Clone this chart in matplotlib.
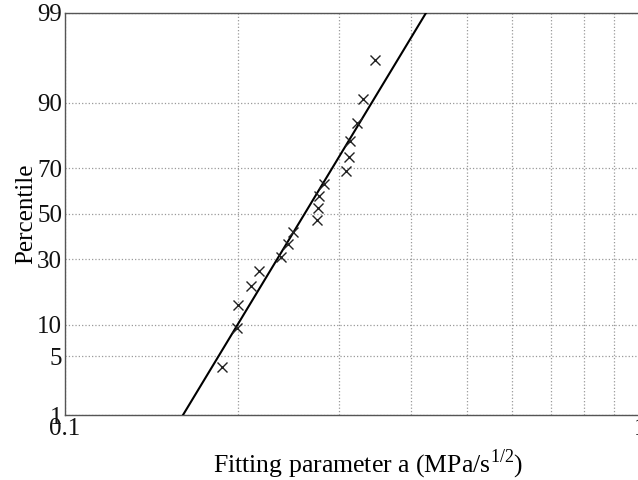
import matplotlib
matplotlib.use('Agg')
import matplotlib.pyplot as plt
import numpy as np
from statistics import NormalDist

plt.rcParams['font.family'] = ['Liberation Serif', 'DejaVu Serif']
plt.rcParams['mathtext.fontset'] = 'custom'
plt.rcParams['mathtext.rm'] = 'Liberation Serif'

# measured fitting parameter a (MPa/s^1/2) and their percentiles
a_values = [0.1876, 0.1990, 0.2000, 0.2107, 0.2176, 0.2376, 0.2443, 0.2493, 0.2745,
            0.2756, 0.2767, 0.2823, 0.3083, 0.3121, 0.3133, 0.3222, 0.3300, 0.3462]
percentiles = [3.80, 9.24, 14.67, 20.11, 25.54, 30.98, 36.41, 41.85, 47.28,
               52.72, 58.15, 63.59, 69.02, 74.46, 79.89, 85.33, 90.76, 96.20]

# fitted lognormal line (end points)
fit_a = [0.1604, 0.4249]
fit_p = [1, 99]

y_ticks = [1, 5, 10, 30, 50, 70, 90, 99]

_nd = NormalDist()
_inv = np.vectorize(lambda v: _nd.inv_cdf(v / 100.0), otypes=[float])
_cdf = np.vectorize(lambda v: _nd.cdf(v) * 100.0, otypes=[float])


def forward(p):
    p = np.clip(np.asarray(p, dtype=float), 1e-6, 100 - 1e-6)
    return _inv(p)


def inverse(z):
    return _cdf(np.asarray(z, dtype=float))


fig = plt.figure(figsize=(6.38, 4.8), dpi=100)
ax = fig.add_axes([65 / 638, 1 - 415 / 480, (640 - 65) / 638, (415 - 12.5) / 480])

ax.set_xscale('log')
ax.set_yscale('function', functions=(forward, inverse))

ax.plot(fit_a, fit_p, color='black', linewidth=1.5, zorder=3)
ax.plot(a_values, percentiles, linestyle='none', marker='x', color='#222222',
        markersize=7, markeredgewidth=1.0, zorder=4)

ax.set_xlim(0.1, 1)
ax.set_ylim(1, 99)

ax.set_yticks(y_ticks)
ax.set_yticklabels([str(t) for t in y_ticks])
ax.set_xticks([0.1, 1])
ax.set_xticklabels(['0.1', '1'])
ax.set_xticks(np.arange(0.2, 1.0, 0.1), minor=True)
ax.xaxis.set_minor_formatter(matplotlib.ticker.NullFormatter())
ax.yaxis.set_minor_locator(matplotlib.ticker.NullLocator())

ax.grid(True, which='both', axis='x', linestyle=':', color='#999999', linewidth=0.9)
ax.grid(True, which='major', axis='y', linestyle=':', color='#999999', linewidth=0.9)
ax.set_axisbelow(True)

for s in ax.spines.values():
    s.set_color('#555555')
    s.set_linewidth(1.0)

ax.tick_params(axis='both', which='both', length=0, labelsize=18, colors='#111111', pad=2)

ax.set_xlabel(r'Fitting parameter a (MPa/s$^{\mathrm{1/2}}$)', fontsize=18.5)
ax.xaxis.set_label_coords((368 - 65) / 575, (415 - 448) / 402.5)
ax.set_ylabel('Percentile', fontsize=18, labelpad=0)

fig.savefig('out.png', dpi=100)
